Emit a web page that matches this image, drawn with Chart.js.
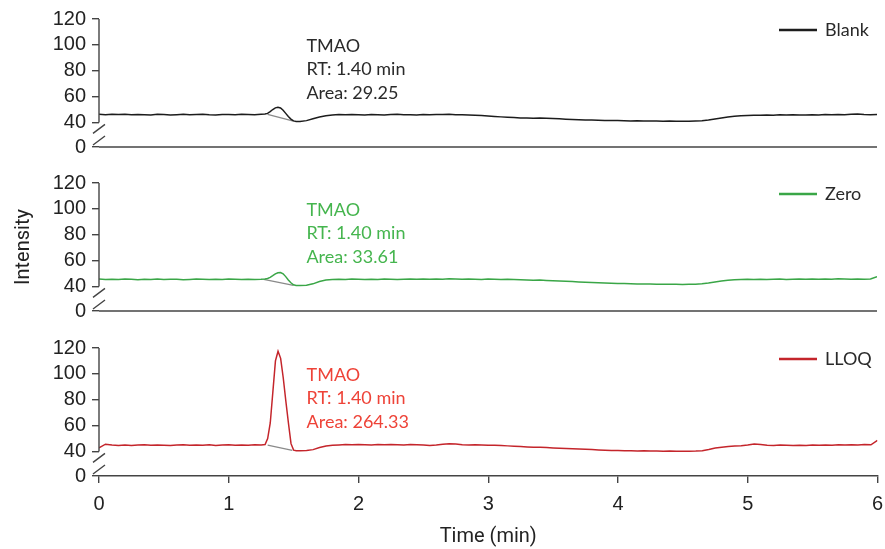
<!DOCTYPE html>
<html>
<head>
<meta charset="utf-8">
<script src="https://cdn.jsdelivr.net/npm/chart.js@4.4.0/dist/chart.umd.min.js"></script>
<style>
  body { margin: 0; background: #fff; overflow: hidden; }
  #wrap { position: relative; width: 885px; height: 549px; overflow: hidden; }
  canvas { position: absolute; left: 0; }
</style>
</head>
<body>
<div id="wrap">
  <canvas id="c0" width="885" height="165" style="top:0"></canvas>
  <canvas id="c1" width="885" height="165" style="top:165px"></canvas>
  <canvas id="c2" width="892" height="219" style="top:330px"></canvas>
</div>
<script>
// retention time (min)
const times = [
  0,0.05,0.1,0.15,0.2,0.25,0.3,0.35,0.4,0.45,0.5,0.55,0.6,0.65,0.7,0.75,0.8,0.85,0.9,0.95,1,1.05,1.1,1.15,1.2,1.25,
  1.28,1.3,1.32,1.34,1.36,1.38,1.4,1.42,1.44,1.46,1.48,1.5,1.52,
  1.55,1.6,1.65,1.7,1.75,1.8,1.85,1.9,1.95,2,2.05,2.1,2.15,2.2,2.25,2.3,2.35,2.4,2.45,2.5,
  2.55,2.6,2.65,2.7,2.75,2.8,2.85,2.9,2.95,3,3.05,3.1,3.15,3.2,3.25,3.3,3.35,3.4,3.45,3.5,
  3.55,3.6,3.65,3.7,3.75,3.8,3.85,3.9,3.95,4,4.05,4.1,4.15,4.2,4.25,4.3,4.35,4.4,4.45,4.5,
  4.55,4.6,4.65,4.7,4.75,4.8,4.85,4.9,4.95,5,5.05,5.1,5.15,5.2,5.25,5.3,5.35,5.4,5.45,5.5,
  5.55,5.6,5.65,5.7,5.75,5.8,5.85,5.9,5.95,6
];

const blank = [
  46.4,46.0,46.3,46.1,46.4,45.9,46.2,46.0,45.8,46.3,46.1,45.8,46.0,46.3,45.9,46.1,46.4,46.0,45.8,46.2,46.1,45.9,46.3,46.2,46.0,46.3,
  46.5,47.0,48.4,50.0,51.3,51.8,51.2,49.4,47.0,44.6,42.6,41.2,40.8,
  40.8,41.4,42.8,44.2,45.2,45.7,46.1,45.9,46.2,46.0,45.8,46.1,45.9,45.7,46.1,46.3,45.9,46.0,45.8,46.1,
  46.0,46.2,46.1,46.3,45.9,46.0,45.8,45.6,45.3,45.0,44.6,44.3,44.0,43.8,43.5,43.4,43.3,43.4,43.2,43.0,
  42.8,42.5,42.2,42.0,41.9,41.8,41.6,41.5,41.4,41.5,41.3,41.2,41.3,41.2,41.1,41.2,41.0,41.1,41.0,40.9,
  41.0,41.1,41.3,41.8,42.6,43.4,44.2,44.8,45.1,45.4,45.6,45.5,45.8,45.6,45.9,45.7,46.0,45.8,45.7,46.0,
  45.8,46.1,45.9,46.2,46.0,46.3,46.5,46.1,45.9,46.2
];

const zero = [
  45.8,45.4,45.6,45.3,45.7,45.5,45.2,45.6,45.4,45.7,45.3,45.5,45.6,45.2,45.4,45.7,45.5,45.3,45.6,45.4,45.8,45.5,45.3,45.6,45.4,45.5,
  45.7,46.1,47.0,48.3,49.7,50.6,50.8,49.8,47.6,45.0,42.8,41.3,40.8,
  40.8,40.9,42.0,43.8,44.9,45.3,45.5,45.4,45.7,45.5,45.3,45.6,45.4,45.7,45.5,45.3,45.6,45.8,45.5,45.7,
  45.5,45.8,45.6,45.9,45.7,45.5,45.8,45.6,45.4,45.7,45.5,45.3,45.6,45.4,45.2,45.0,44.8,44.9,44.6,44.4,
  44.2,44.0,43.8,43.5,43.3,43.1,42.9,42.7,42.5,42.3,42.2,42.0,41.9,41.8,41.8,41.7,41.6,41.7,41.6,41.5,
  41.6,41.7,42.0,42.6,43.4,44.2,44.8,45.1,45.3,45.5,45.4,45.6,45.3,45.5,45.7,45.4,45.6,45.8,45.5,45.7,
  45.5,45.8,45.6,45.9,45.7,45.5,45.8,45.6,45.7,47.6
];

const lloq = [
  42.8,45.6,45.0,44.6,45.0,44.6,44.9,45.2,44.7,45.0,44.8,44.5,44.9,45.1,44.7,45.0,44.8,45.2,44.6,44.9,45.1,44.7,45.0,44.8,45.2,44.9,
  45.3,50.0,62.0,86.0,110.0,117.5,112.0,97.0,79.0,62.0,46.0,41.0,40.6,
  40.6,40.7,41.4,43.0,44.2,44.8,45.0,45.3,45.1,45.4,45.2,45.0,45.3,45.1,45.4,45.2,44.9,45.3,45.1,45.0,
  44.6,44.9,45.6,46.0,45.7,45.2,45.0,45.2,44.9,44.7,44.8,44.5,44.3,44.1,43.8,43.5,43.3,43.2,43.0,42.7,
  42.5,42.3,42.1,41.9,41.6,41.4,41.2,41.0,40.8,40.7,40.6,40.5,40.4,40.5,40.3,40.4,40.2,40.3,40.1,40.2,
  40.2,40.3,40.6,41.5,42.6,43.3,43.8,44.2,44.4,45.0,45.8,45.3,44.8,44.6,44.9,44.7,44.5,44.8,44.6,44.9,
  44.7,45.0,44.8,45.1,44.9,45.2,45.0,45.3,45.1,48.6
];

// integration baselines under the TMAO peak
const baseX = [[1.30, 1.50], [1.27, 1.50], [1.30, 1.49]];
const baseY = [[46.2, 41.0], [45.4, 40.8], [44.8, 40.9]];

const seriesNames = ['Blank', 'Zero', 'LLOQ'];
const peakAreas = ['29.25', '33.61', '264.33'];
const peakRT = '1.40';
const yTicks = [0, 40, 60, 80, 100, 120];
const xTicks = [0, 1, 2, 3, 4, 5, 6];

const lineColors = ['#1c1c1c', '#3aa647', '#c4252b'];
const textColors = ['#2a2a2a', '#45b54e', '#ee4338'];

const BREAK = 21; // axis position standing in for 0 below the break
const TICK_FONT = { family: '"Liberation Sans", Arial, sans-serif', size: 20 };
const TEXT_FONT = '18px Lato, "Open Sans", sans-serif';

const allSeries = [blank, zero, lloq];

function panelPlugin(i) {
  return {
    id: 'panel' + i,
    afterDraw(chart) {
      const ctx = chart.ctx;
      const a = chart.chartArea;
      const ys = chart.scales.y;
      const xs = chart.scales.x;
      const y40 = ys.getPixelForValue(40);
      const y0 = ys.getPixelForValue(BREAK);
      ctx.save();
      ctx.strokeStyle = '#444';
      ctx.lineWidth = 1.4;
      // y axis line down to the break
      ctx.beginPath();
      ctx.moveTo(a.left, ys.getPixelForValue(120));
      ctx.lineTo(a.left, y40);
      ctx.stroke();
      // break marks
      ctx.beginPath();
      ctx.moveTo(a.left - 6, y40 + 11);
      ctx.lineTo(a.left + 6, y40 + 2);
      ctx.moveTo(a.left - 6, y0 - 2);
      ctx.lineTo(a.left + 6, y0 - 11);
      ctx.stroke();
      // x axis line for the upper panels
      if (i < 2) {
        ctx.beginPath();
        ctx.moveTo(a.left, y0);
        ctx.lineTo(a.right, y0);
        ctx.stroke();
      }
      // legend
      const ly = a.top + 11;
      ctx.strokeStyle = lineColors[i];
      ctx.lineWidth = 2.5;
      ctx.beginPath();
      ctx.moveTo(779, ly);
      ctx.lineTo(817, ly);
      ctx.stroke();
      ctx.fillStyle = '#2a2a2a';
      ctx.font = TEXT_FONT;
      ctx.textBaseline = 'middle';
      ctx.textAlign = 'left';
      ctx.fillText(seriesNames[i], 825, ly);
      // peak annotation
      const tx = xs.getPixelForValue(1.6);
      ctx.fillStyle = textColors[i];
      ctx.fillText('TMAO', tx, a.top + 27);
      ctx.fillText('RT: ' + peakRT + ' min', tx, a.top + 50.5);
      ctx.fillText('Area: ' + peakAreas[i], tx, a.top + 74);
      ctx.restore();
    }
  };
}

function makePanel(i) {
  const last = i === 2;
  const pts = times.map((t, k) => ({ x: t, y: allSeries[i][k] }));
  const base = baseX[i].map((t, k) => ({ x: t, y: baseY[i][k] }));
  const pad = [{ top: 19, bottom: 15, right: 8 }, { top: 17, bottom: 19, right: 8 }, { top: 15, bottom: 0, right: 0 }][i];
  new Chart(document.getElementById('c' + i), {
    type: 'line',
    data: {
      datasets: [
        { label: seriesNames[i], data: pts, borderColor: lineColors[i], borderWidth: 1.5, pointRadius: 0, tension: 0 },
        { label: 'baseline', data: base, borderColor: '#8a8a8a', borderWidth: 1.3, pointRadius: 0 }
      ]
    },
    options: {
      responsive: false,
      animation: false,
      layout: { padding: { left: 0, right: pad.right, top: pad.top, bottom: pad.bottom } },
      plugins: { legend: { display: false }, tooltip: { enabled: false } },
      scales: {
        x: {
          type: 'linear',
          min: 0,
          max: 6,
          display: last,
          afterBuildTicks: s => { s.ticks = xTicks.map(v => ({ value: v })); },
          afterFit: s => { if (last) s.height = 73; },
          ticks: { font: TICK_FONT, color: '#222', padding: 9, maxRotation: 0, autoSkip: false },
          grid: { display: true, drawOnChartArea: false, tickLength: 7, color: '#444', lineWidth: 1.4 },
          border: { display: true, color: '#444', width: 1.4 },
          title: {
            display: last,
            text: 'Time (min)',
            font: { family: 'Roboto, sans-serif', size: 20 },
            color: '#222',
            padding: { top: 0, bottom: 0 }
          }
        },
        y: {
          type: 'linear',
          min: BREAK,
          max: 120,
          afterBuildTicks: s => { s.ticks = yTicks.map(v => ({ value: v === 0 ? BREAK : v })); },
          afterFit: s => { s.width = 99; },
          ticks: {
            font: TICK_FONT,
            color: '#222',
            padding: 6,
            autoSkip: false,
            callback: v => (v === BREAK ? '0' : v)
          },
          grid: { display: true, drawOnChartArea: false, tickLength: 7, color: '#444', lineWidth: 1.4 },
          border: { display: false },
          title: {
            display: i === 1,
            text: 'Intensity',
            font: { family: 'Roboto, sans-serif', size: 20 },
            color: '#222',
            padding: { top: 12, bottom: 0 }
          }
        }
      }
    },
    plugins: [panelPlugin(i)]
  });
}

[0, 1, 2].forEach(makePanel);
</script>
</body>
</html>
